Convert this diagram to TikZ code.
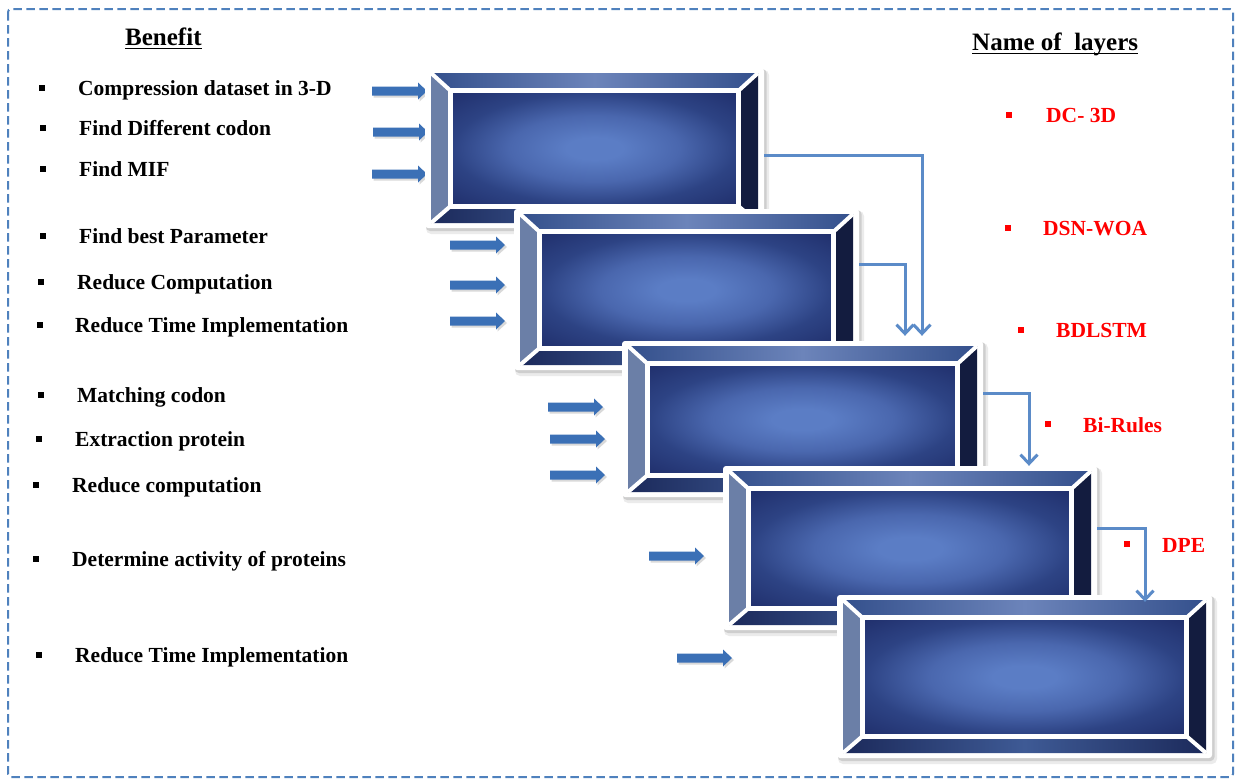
\documentclass[tikz,border=0pt]{standalone}
\usepackage{fontspec}
\setmainfont{Liberation Serif}
\usetikzlibrary{arrows.meta}

\definecolor{bevtopE}{HTML}{34508C}
\definecolor{bevtopM}{HTML}{6C84BA}
\definecolor{bevleft}{HTML}{6B7FA7}
\definecolor{bevright}{HTML}{131C3F}
\definecolor{bevbotE}{HTML}{1C2A5B}
\definecolor{bevbotM}{HTML}{3E5A95}
\definecolor{panelC}{HTML}{5B7DC5}
\definecolor{panelM}{HTML}{4A67AE}
\definecolor{panelE}{HTML}{2D4384}
\definecolor{panelK}{HTML}{202F6C}
\definecolor{linkblue}{HTML}{5B8BC8}
\definecolor{arrowblue}{HTML}{3B70B6}
\definecolor{frameblue}{HTML}{4F81BD}
\definecolor{layerred}{HTML}{FF0000}

% glow of the central panels: light centre fading to dark corners
\pgfdeclareradialshading{panelglow}{\pgfpoint{0bp}{0bp}}{%
  color(0bp)=(panelC); color(5bp)=(panelC); color(15bp)=(panelM);
  color(25bp)=(panelE); color(36bp)=(panelK); color(50bp)=(panelK)}

\tikzset{
  itemtext/.style={anchor=base west, inner sep=0pt, font=\fontsize{21.5}{26}\selectfont\bfseries},
  headtext/.style={anchor=base west, inner sep=0pt, font=\fontsize{25}{30}\selectfont\bfseries},
  layertext/.style={itemtext, text=layerred},
  blackdot/.style={fill=black, minimum width=6pt, minimum height=5.5pt, inner sep=0pt},
  reddot/.style={fill=layerred, minimum size=6.5pt, inner sep=0pt},
  link/.style={draw=linkblue, line width=3pt, -{Straight Barb[length=9pt,width=17pt,line width=3pt]}},
  frame/.style={draw=frameblue, line width=2pt, dash pattern=on 8.5pt off 4.5pt, rounded corners=3pt},
  inarrow/.pic={
    \fill[black, opacity=.15] (1.5,-2.5) -- (47.5,-2.5) -- (47.5,-6.5) -- (57,2) -- (47.5,10.5) -- (47.5,6.5) -- (1.5,6.5) -- cycle;
    \fill[arrowblue] (0,-4.5) -- (46,-4.5) -- (46,-8.5) -- (55,0) -- (46,8.5) -- (46,4.5) -- (0,4.5) -- cycle;
  }
}

% A bevelled layer panel: #1 name, (#2,#3) top-left corner, (#4,#5) bottom-right corner
\newcommand\layerbox[5]{%
  \pgfmathsetmacro\lbL{#2+6}\pgfmathsetmacro\lbT{#3+5}%
  \pgfmathsetmacro\lbR{#4-6}\pgfmathsetmacro\lbB{#5-5}%
  \pgfmathsetmacro\lpL{#2+28}\pgfmathsetmacro\lpT{#3+25}%
  \pgfmathsetmacro\lpR{#4-28}\pgfmathsetmacro\lpB{#5-24}%
  % soft drop shadow
  \fill[black, opacity=.08, rounded corners=5pt] (#2+1,#3+2) rectangle (#4+5,#5+6);
  \fill[black, opacity=.12, rounded corners=4pt] (#2+1,#3+1) rectangle (#4+2.5,#5+3);
  % white mount
  \node[fill=white, rounded corners=3pt, inner sep=0pt,
        minimum width={#4-#2}, minimum height={#5-#3}] (#1) at ({(#2+#4)/2},{(#3+#5)/2}) {};
  % bevel faces
  \shade[left color=bevtopE, right color=bevtopE, middle color=bevtopM]
    (\lbL,\lbT) -- (\lbR,\lbT) -- (\lpR,\lpT) -- (\lpL,\lpT) -- cycle;
  \fill[bevleft] (\lbL,\lbT) -- (\lpL,\lpT) -- (\lpL,\lpB) -- (\lbL,\lbB) -- cycle;
  \fill[bevright] (\lbR,\lbT) -- (\lbR,\lbB) -- (\lpR,\lpB) -- (\lpR,\lpT) -- cycle;
  \shade[left color=bevbotE, right color=bevbotE, middle color=bevbotM]
    (\lbL,\lbB) -- (\lpL,\lpB) -- (\lpR,\lpB) -- (\lbR,\lbB) -- cycle;
  % central panel
  \shade[shading=panelglow] (\lpL,\lpT) rectangle (\lpR,\lpB);
  % white grooves
  \draw[white, line width=5pt] (\lpL-2.5,\lpT-2.5) rectangle (\lpR+2.5,\lpB+2.5);
  \draw[white, line width=4pt] (\lbL,\lbT) -- (\lpL,\lpT) (\lbR,\lbT) -- (\lpR,\lpT)
                               (\lbR,\lbB) -- (\lpR,\lpB) (\lbL,\lbB) -- (\lpL,\lpB);
}

\begin{document}
\begin{tikzpicture}[x=1pt, y=-1pt]
\useasboundingbox (0,0) rectangle (1237,780);
\fill[white] (0,0) rectangle (1237,780);

% dashed outline
\draw[frame] (8,9) rectangle (1233,777);

% headings
\node[headtext] (hbenefit) at (125,45) {Benefit};
\draw[line width=1.7pt] ([yshift=-3.5pt]hbenefit.base west) -- ([yshift=-3.5pt]hbenefit.base east);
\node[headtext] (hlayers) at (972,50) {Name of\ \ layers};
\draw[line width=1.7pt] ([yshift=-3.5pt]hlayers.base west) -- ([yshift=-3.5pt]hlayers.base east);

% benefits
\node[blackdot] (d1) at (42,88) {};   \node[itemtext] (t1) at (78,95) {Compression dataset in 3-D};
\node[blackdot] (d2) at (43,128) {};  \node[itemtext] (t2) at (79,135) {Find Different codon};
\node[blackdot] (d3) at (43,169) {};  \node[itemtext] (t3) at (79,176) {Find MIF};
\node[blackdot] (d4) at (43,236) {};  \node[itemtext] (t4) at (79,243) {Find best Parameter};
\node[blackdot] (d5) at (41,282) {};  \node[itemtext] (t5) at (77,289) {Reduce Computation};
\node[blackdot] (d6) at (40,325) {};  \node[itemtext] (t6) at (75,332) {Reduce Time Implementation};
\node[blackdot] (d7) at (41,395) {};  \node[itemtext] (t7) at (77,402) {Matching codon};
\node[blackdot] (d8) at (39,439) {};  \node[itemtext] (t8) at (75,446) {Extraction protein};
\node[blackdot] (d9) at (36,485) {};  \node[itemtext] (t9) at (72,492) {Reduce computation};
\node[blackdot] (d10) at (36,559) {}; \node[itemtext] (t10) at (72,566) {Determine activity of proteins};
\node[blackdot] (d11) at (39,655) {}; \node[itemtext] (t11) at (75,662) {Reduce Time Implementation};

% layer names
\node[reddot] (r1) at (1009,115) {}; \node[layertext] (n1) at (1046,122) {DC- 3D};
\node[reddot] (r2) at (1008,228) {}; \node[layertext] (n2) at (1043,235) {DSN-WOA};
\node[reddot] (r3) at (1021,330) {}; \node[layertext] (n3) at (1056,337) {BDLSTM};
\node[reddot] (r4) at (1048,424) {}; \node[layertext] (n4) at (1083,432) {Bi-Rules};
\node[reddot] (r5) at (1127,544) {}; \node[layertext] (n5) at (1162,552) {DPE};

% input arrows
\pic at (372,91) {inarrow};
\pic at (373,132) {inarrow};
\pic at (372,174) {inarrow};
\pic at (450,245) {inarrow};
\pic at (450,285) {inarrow};
\pic at (450,321) {inarrow};
\pic at (548,407) {inarrow};
\pic at (550,439) {inarrow};
\pic at (550,475) {inarrow};
\pic at (649,556) {inarrow};
\pic at (677,658) {inarrow};

% layer panels
\layerbox{L1}{425}{68}{764}{228}
\layerbox{L2}{514}{209}{859}{370}
\layerbox{L3}{622}{341}{983}{497}
\layerbox{L4}{723}{466}{1097}{630}
\layerbox{L5}{837}{595}{1212}{758}

% flow between layers
\draw[link] ([yshift=-7pt]L1.east) -| ([xshift=119.5pt,yshift=5pt]L3.north);
\draw[link] ([yshift=25.5pt]L2.east) -| ([xshift=102.5pt,yshift=5pt]L3.north);
\draw[link] ([yshift=26pt]L3.east) -| ([xshift=119pt,yshift=0pt]L4.north);
\draw[link] ([yshift=20pt]L4.east) -| ([xshift=120.5pt,yshift=-7pt]L5.north);
\end{tikzpicture}
\end{document}
